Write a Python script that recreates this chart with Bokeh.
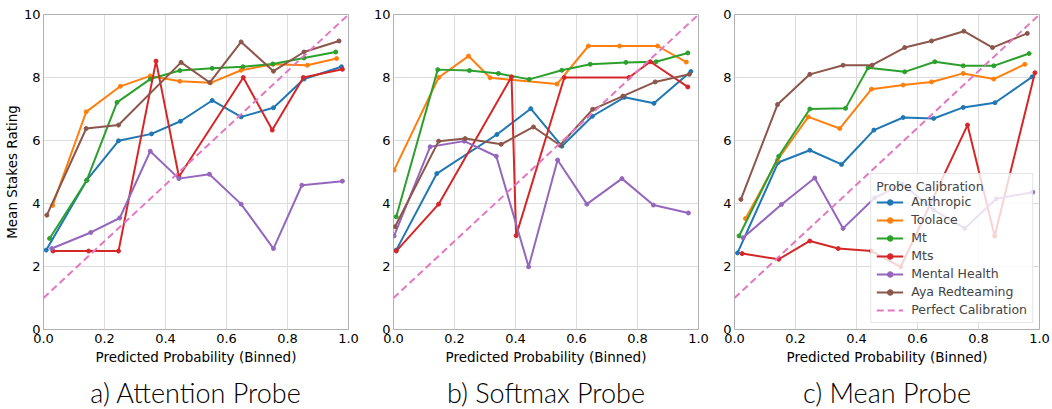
from bokeh.plotting import figure
from bokeh.layouts import row
from bokeh.models import FixedTicker, Legend, LegendItem, Title, Range1d
from bokeh.embed import file_html
from bokeh.resources import INLINE

# ---------------- data ----------------
series_names = ["Anthropic", "Toolace", "Mt", "Mts", "Mental Health", "Aya Redteaming"]
series_colors = ["#1f77b4", "#ff7f0e", "#2ca02c", "#d62728", "#9467bd", "#8c564b"]
perfect_color = "#e377c2"
perfect_x = [0.0, 1.0]
perfect_y = [1.0, 10.0]

x_ticks = [0.0, 0.2, 0.4, 0.6, 0.8, 1.0]
x_tick_labels = ["0.0", "0.2", "0.4", "0.6", "0.8", "1.0"]
y_ticks = [0, 2, 4, 6, 8, 10]
y_tick_labels = ["0", "2", "4", "6", "8", "10"]
y_tick_labels_mean = ["0", "2", "4", "6", "8", "0"]

panel_titles = ["a) Attention Probe", "b) Softmax Probe", "c) Mean Probe"]

# a) Attention probe
attn_anthropic_x = [0.009, 0.142, 0.246, 0.354, 0.449, 0.553, 0.648, 0.754, 0.854, 0.977]
attn_anthropic_y = [2.52, 4.74, 5.99, 6.21, 6.61, 7.27, 6.75, 7.04, 7.95, 8.34]
attn_toolace_x = [0.030, 0.140, 0.252, 0.350, 0.447, 0.548, 0.648, 0.752, 0.865, 0.961]
attn_toolace_y = [3.94, 6.91, 7.72, 8.05, 7.88, 7.83, 8.23, 8.42, 8.39, 8.60]
attn_mt_x = [0.020, 0.142, 0.241, 0.350, 0.447, 0.553, 0.654, 0.752, 0.854, 0.958]
attn_mt_y = [2.89, 4.74, 7.21, 7.95, 8.22, 8.29, 8.34, 8.43, 8.62, 8.81]
attn_mts_x = [0.031, 0.148, 0.246, 0.369, 0.444, 0.655, 0.750, 0.852, 0.980]
attn_mts_y = [2.49, 2.49, 2.49, 8.52, 4.85, 8.00, 6.33, 8.00, 8.26]
attn_mental_x = [0.027, 0.155, 0.250, 0.350, 0.444, 0.544, 0.648, 0.754, 0.847, 0.980]
attn_mental_y = [2.57, 3.08, 3.54, 5.66, 4.79, 4.93, 3.98, 2.57, 4.58, 4.71]
attn_aya_x = [0.011, 0.140, 0.246, 0.451, 0.545, 0.648, 0.754, 0.854, 0.969]
attn_aya_y = [3.63, 6.38, 6.49, 8.48, 7.84, 9.13, 8.20, 8.81, 9.16]

# b) Softmax probe
soft_anthropic_x = [0.009, 0.142, 0.339, 0.450, 0.552, 0.652, 0.757, 0.854, 0.975]
soft_anthropic_y = [2.52, 4.95, 6.19, 7.01, 5.82, 6.77, 7.37, 7.18, 8.19]
soft_toolace_x = [0.002, 0.148, 0.246, 0.317, 0.536, 0.639, 0.741, 0.866, 0.960]
soft_toolace_y = [5.06, 8.00, 8.68, 7.99, 7.79, 9.00, 9.00, 9.00, 8.49]
soft_mt_x = [0.009, 0.145, 0.249, 0.344, 0.445, 0.552, 0.645, 0.762, 0.861, 0.965]
soft_mt_y = [3.58, 8.25, 8.22, 8.13, 7.94, 8.23, 8.42, 8.48, 8.50, 8.78]
soft_mts_x = [0.009, 0.148, 0.387, 0.402, 0.560, 0.772, 0.842, 0.965]
soft_mts_y = [2.49, 3.98, 8.02, 2.98, 8.00, 8.00, 8.50, 7.70]
soft_mental_x = [0.002, 0.120, 0.232, 0.337, 0.443, 0.538, 0.634, 0.749, 0.852, 0.967]
soft_mental_y = [2.97, 5.80, 5.98, 5.50, 1.99, 5.38, 3.98, 4.79, 3.95, 3.70]
soft_aya_x = [0.005, 0.148, 0.235, 0.353, 0.459, 0.546, 0.653, 0.752, 0.858, 0.970]
soft_aya_y = [3.26, 5.98, 6.06, 5.88, 6.43, 5.85, 6.99, 7.41, 7.86, 8.10]

# c) Mean probe
mean_anthropic_x = [0.010, 0.143, 0.247, 0.351, 0.457, 0.553, 0.653, 0.750, 0.854, 0.976]
mean_anthropic_y = [2.43, 5.30, 5.69, 5.24, 6.33, 6.73, 6.70, 7.05, 7.20, 8.02]
mean_toolace_x = [0.036, 0.141, 0.242, 0.345, 0.449, 0.553, 0.646, 0.750, 0.850, 0.952]
mean_toolace_y = [3.52, 5.38, 6.75, 6.38, 7.63, 7.76, 7.86, 8.13, 7.95, 8.42]
mean_mt_x = [0.015, 0.145, 0.247, 0.364, 0.438, 0.558, 0.657, 0.750, 0.850, 0.966]
mean_mt_y = [2.97, 5.50, 7.00, 7.02, 8.31, 8.18, 8.50, 8.37, 8.37, 8.76]
mean_mts_x = [0.025, 0.145, 0.247, 0.340, 0.449, 0.545, 0.764, 0.853, 0.985]
mean_mts_y = [2.41, 2.23, 2.81, 2.57, 2.49, 1.99, 6.49, 2.97, 8.15]
mean_mental_x = [0.028, 0.154, 0.263, 0.356, 0.460, 0.550, 0.653, 0.755, 0.858, 0.978]
mean_mental_y = [2.91, 3.97, 4.81, 3.21, 4.18, 4.62, 3.80, 3.21, 4.15, 4.36]
mean_aya_x = [0.021, 0.141, 0.247, 0.356, 0.451, 0.558, 0.646, 0.752, 0.846, 0.960]
mean_aya_y = [4.13, 7.14, 8.10, 8.39, 8.39, 8.95, 9.16, 9.47, 8.95, 9.40]

attention_series = [(attn_anthropic_x, attn_anthropic_y), (attn_toolace_x, attn_toolace_y),
                    (attn_mt_x, attn_mt_y), (attn_mts_x, attn_mts_y),
                    (attn_mental_x, attn_mental_y), (attn_aya_x, attn_aya_y)]
softmax_series = [(soft_anthropic_x, soft_anthropic_y), (soft_toolace_x, soft_toolace_y),
                  (soft_mt_x, soft_mt_y), (soft_mts_x, soft_mts_y),
                  (soft_mental_x, soft_mental_y), (soft_aya_x, soft_aya_y)]
mean_series = [(mean_anthropic_x, mean_anthropic_y), (mean_toolace_x, mean_toolace_y),
               (mean_mt_x, mean_mt_y), (mean_mts_x, mean_mts_y),
               (mean_mental_x, mean_mental_y), (mean_aya_x, mean_aya_y)]

FONT = "'DejaVu Sans'"
CAPTION_FONT = "'Lato Light', Lato"


def make_panel(caption, series, border_left, border_right, ylabel=None,
               ylabels=y_tick_labels, legend=False):
    p = figure(frame_width=305, frame_height=315,
               min_border_left=border_left, min_border_right=border_right,
               min_border_top=14, min_border_bottom=80,
               x_range=Range1d(0, 1), y_range=Range1d(0, 10),
               output_backend="svg", toolbar_location=None,
               background_fill_color="white", border_fill_color="white")
    p.outline_line_color = "#b0b0b0"
    p.outline_line_width = 1

    p.xaxis.ticker = FixedTicker(ticks=x_ticks)
    p.yaxis.ticker = FixedTicker(ticks=y_ticks)
    p.xaxis.major_label_overrides = {t: l for t, l in zip(x_ticks, x_tick_labels)}
    p.yaxis.major_label_overrides = {t: l for t, l in zip(y_ticks, ylabels)}
    for ax in (p.xaxis, p.yaxis):
        ax.axis_line_color = None
        ax.major_tick_line_color = None
        ax.minor_tick_line_color = None
        ax.major_tick_out = 0
        ax.major_tick_in = 0
        ax.minor_tick_out = 0
        ax.minor_tick_in = 0
        ax.major_label_text_font = FONT
        ax.major_label_text_font_size = "13px"
        ax.major_label_text_color = "black"
        ax.axis_label_text_font = FONT
        ax.axis_label_text_font_size = "13.5px"
        ax.axis_label_text_font_style = "normal"
        ax.axis_label_text_color = "black"
    p.xaxis.axis_label_standoff = 3
    p.yaxis.axis_label_standoff = 1
    p.xaxis.major_label_standoff = 4
    p.yaxis.major_label_standoff = 3
    p.xaxis.axis_label = "Predicted Probability (Binned)"
    if ylabel:
        p.yaxis.axis_label = ylabel

    p.xgrid.ticker = FixedTicker(ticks=x_ticks)
    p.ygrid.ticker = FixedTicker(ticks=y_ticks)
    p.grid.grid_line_color = "#dcdcdc"
    p.grid.grid_line_width = 1

    items = []
    for name, color, (xs, ys) in zip(series_names, series_colors, series):
        lr = p.line(xs, ys, line_color=color, line_width=2)
        sr = p.scatter(xs, ys, size=4, fill_color=color, line_color=color)
        items.append(LegendItem(label=name, renderers=[lr, sr]))
    pr = p.line(perfect_x, perfect_y, line_color=perfect_color, line_width=2,
                line_dash="7 4")
    items.append(LegendItem(label="Perfect Calibration", renderers=[pr]))

    if legend:
        lg = Legend(items=items, location="bottom_right", margin=6, padding=5,
                    spacing=3, glyph_width=27, glyph_height=14, label_height=14,
                    label_standoff=8, label_text_font=FONT,
                    label_text_font_size="12.5px",
                    title="Probe Calibration", title_text_font=FONT,
                    title_text_font_size="12.5px", title_text_font_style="normal",
                    title_standoff=0,
                    background_fill_color="white", background_fill_alpha=0.8,
                    border_line_color="#cccccc", border_line_width=1)
        p.add_layout(lg, "center")

    p.add_layout(Title(text=caption, align="center", text_font=CAPTION_FONT,
                       text_font_size="27px", text_font_style="normal",
                       text_color="black", standoff=12), "below")
    return p


pa = make_panel(panel_titles[0], attention_series, 42, 14, ylabel="Mean Stakes Rating")
pb = make_panel(panel_titles[1], softmax_series, 31, 12)
pc = make_panel(panel_titles[2], mean_series, 24, 14, ylabels=y_tick_labels_mean, legend=True)

layout = row(pa, pb, pc, spacing=0)
open("out.html", "w").write(file_html(layout, INLINE))
